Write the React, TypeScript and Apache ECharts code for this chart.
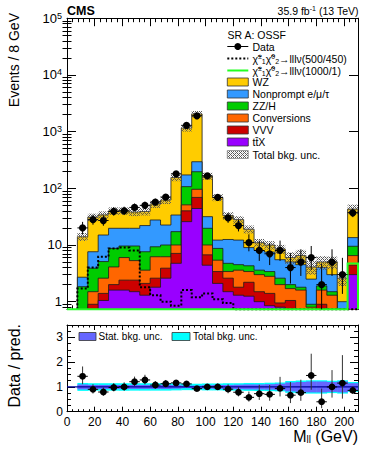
import React, { useEffect, useRef } from "react";
import * as echarts from "echarts";

// ---------------- data ----------------
const binLow = [7.5, 15, 22.5, 30, 37.5, 45, 52.5, 60, 67.5, 75, 82.5, 90, 97.5, 105, 112.5, 120, 127.5, 135, 142.5, 150, 157.5, 165, 172.5, 180, 187.5, 195, 202.5];
const binWidth = 7.5;

const dataCounts = [20, 28, 27, 39, 40, 46, 50, 57, 70, 180, 1290, 1900, 165, 69, 30, 22, 11, 8, 7, 8, 4, 5, 6, 2, 5, 3, 37];

// stack components, bottom to top
const ttX = [0.15, 0.45, 1.05, 1.6, 1.6, 1.5, 1.3, 1.8, 2.6, 4.75, 25.8, 44, 4.4, 2.1, 1.5, 1.3, 1.25, 1.0, 0.85, 0.8, 0.6, 0.5, 0.3, 0.5, 0.3, 0.2, 3.0];
const vvv = [0.1, 0.45, 0.35, 0.4, 0.8, 0.9, 0.8, 0.8, 1.3, 2.35, 14.2, 25, 2.3, 1.3, 1.1, 0.5, 0.95, 0.5, 0.55, 0.15, 0.45, 0.1, 0.1, 0.4, 0.4, 0.1, 1.4];
const conversions = [0.2, 0.6, 1.2, 2.1, 3.6, 2.9, 1.5, 3.6, 2.3, 2.9, 11, 27, 3.3, 2.0, 0.8, 1.8, 1.2, 1.5, 1.4, 1.05, 0.65, 1.0, 0.4, 0.7, 0.6, 0.2, 2.1];
const zzH = [1.39, 2.4, 2.5, 4.6, 3.6, 4.3, 4.0, 3.1, 3.8, 7.2, 56, 100, 9.7, 3.3, 1.35, 0.9, 0.9, 0.6, 0.6, 0.6, 0.3, 0.2, 0.1, 0.3, 0.2, 0.1, 3.0];
const nonprompt = [0.86, 3.7, 9.9, 11, 10.1, 10.1, 14.4, 18.3, 12.5, 16.6, 65, 98, 11.9, 3.5, 7.75, 7.7, 4.7, 4.4, 4.1, 2.9, 3.0, 2.7, 1.6, 2.1, 1.5, 0.4, 4.0];
const wz = [11.3, 23.4, 19, 20.3, 20.3, 18.3, 17, 25.4, 39.5, 121.2, 978, 1746, 133.4, 56.8, 20.5, 15.8, 10, 3, 2.5, 3, 1, 2, 1.6, 1, 2, 1.6, 29.5];

// relative uncertainties
const statRel = [0.1, 0.08, 0.08, 0.08, 0.08, 0.08, 0.08, 0.08, 0.08, 0.07, 0.05, 0.05, 0.07, 0.08, 0.08, 0.09, 0.1, 0.1, 0.11, 0.13, 0.18, 0.2, 0.22, 0.22, 0.2, 0.22, 0.15];
const totRel = [0.16, 0.15, 0.15, 0.15, 0.15, 0.15, 0.15, 0.15, 0.15, 0.14, 0.13, 0.13, 0.14, 0.14, 0.15, 0.15, 0.16, 0.16, 0.17, 0.18, 0.24, 0.26, 0.27, 0.27, 0.25, 0.27, 0.2];

// signals
const sig500 = [1.7, 4.0, 6.2, 8.7, 9.0, 8.0, 1.8, 1.3, 1.0, 0.85, 1.6, 1.2, 1.4, 1.1, 0.95, 0.6, 0.5, 0.4, 0.35, 0.3, 0.25, 0.2, 0.2, 0.15, 0.12, 0.1, 0.1];
const sig1000 = [0.02, 0.02, 0.03, 0.03, 0.04, 0.04, 0.05, 0.05, 0.06, 0.07, 0.08, 0.1, 0.1, 0.12, 0.13, 0.15, 0.16, 0.18, 0.2, 0.22, 0.24, 0.26, 0.28, 0.3, 0.33, 0.36, 4.7];

const yDecades = [0, 1, 2, 3, 4, 5];

// ---------------- style ----------------
const FONT = '"Liberation Sans", Arial, Helvetica, sans-serif';
const LOG_MIN = Math.log10(0.734);
const LOG_MAX = 5;
const RATIO_MAX = 3.5;

const comps = [
  { name: "tt̄X", values: ttX, color: "#9900ff" },
  { name: "VVV", values: vvv, color: "#cc0000" },
  { name: "Conversions", values: conversions, color: "#ff6600" },
  { name: "ZZ/H", values: zzH, color: "#00cc00" },
  { name: "Nonprompt e/μ/τ", values: nonprompt, color: "#3399ff" },
  { name: "WZ", values: wz, color: "#ffcc00" },
];

const lg = (v: number) => (v > 0 ? Math.max(Math.log10(v), LOG_MIN) : LOG_MIN);
const gUp = (n: number) => n + Math.sqrt(n + 0.75) + 1;
const gLo = (n: number) => (n <= 0 ? 0 : n * Math.pow(1 - 1 / (9 * n) - 1 / (3 * Math.sqrt(n)), 3));

function makeHatch() {
  const c = document.createElement("canvas");
  c.width = 4;
  c.height = 4;
  const ctx = c.getContext("2d")!;
  ctx.fillStyle = "#5a5a5a";
  for (let x = 0; x < 4; x++)
    for (let y = 0; y < 4; y++)
      if ((x + y) % 4 === 0 || (x - y + 4) % 4 === 0) ctx.fillRect(x, y, 1, 1);
  ctx.fillStyle = "rgba(150,150,150,0.5)";
  for (let x = 0; x < 4; x++)
    for (let y = 0; y < 4; y++)
      if ((x + y) % 4 === 2 && (x - y + 4) % 4 === 2) ctx.fillRect(x, y, 1, 1);
  return { image: c.toDataURL(), repeat: "repeat", imageWidth: 4, imageHeight: 4 };
}

export default function App() {
  const ref = useRef<HTMLDivElement>(null);
  useEffect(() => {
    const chart = echarts.init(ref.current!, null, { renderer: "svg" });
    const hatch: any = makeHatch();

    const nb = binLow.length;
    const cum: number[][] = [];
    comps.forEach((c, k) => {
      cum.push(c.values.map((v, i) => v + (k > 0 ? cum[k - 1][i] : 0)));
    });
    const total = cum[comps.length - 1];

    const minorLog: number[] = [];
    for (let d = -1; d < 5; d++)
      for (let m = 2; m <= 9; m++) {
        const v = d + Math.log10(m);
        if (v > LOG_MIN && v < LOG_MAX) minorLog.push(v);
      }

    const series: any[] = [];
    // stacked fills, drawn from top component down
    for (let k = comps.length - 1; k >= 0; k--) {
      const c = comps[k];
      series.push({
        type: "custom",
        name: c.name,
        xAxisIndex: 0,
        yAxisIndex: 0,
        z: 2,
        data: [[binLow[0], 0]],
        renderItem: (params: any, api: any) => {
          const pts: number[][] = [];
          pts.push(api.coord([binLow[0], LOG_MIN]));
          for (let i = 0; i < nb; i++) {
            const y = lg(cum[k][i]);
            pts.push(api.coord([binLow[i], y]));
            pts.push(api.coord([binLow[i] + binWidth, y]));
          }
          pts.push(api.coord([binLow[nb - 1] + binWidth, LOG_MIN]));
          return {
            type: "group",
            children: [
              { type: "polygon", shape: { points: pts }, style: { fill: c.color } },
              { type: "polyline", shape: { points: pts }, style: { stroke: "#1a1a1a", lineWidth: 0.8, fill: null } },
            ],
          };
        },
      });
    }
    // total uncertainty hatch
    series.push({
      type: "custom",
      name: "Total bkg. unc.",
      xAxisIndex: 0,
      yAxisIndex: 0,
      z: 3,
      data: binLow.map((x) => [x, 0]),
      renderItem: (params: any, api: any) => {
        const i = params.dataIndex;
        const p1 = api.coord([binLow[i], lg(total[i] * (1 + totRel[i]))]);
        const p2 = api.coord([binLow[i] + binWidth, lg(total[i] * (1 - totRel[i]))]);
        return {
          type: "rect",
          shape: { x: p1[0], y: p1[1], width: p2[0] - p1[0], height: p2[1] - p1[1] },
          style: { fill: hatch },
        };
      },
    });
    // signal lines
    const sigSeries = (vals: number[], color: string, dash: any, width: number, fromZero: boolean) => ({
      type: "custom",
      xAxisIndex: 0,
      yAxisIndex: 0,
      z: 4,
      data: [[binLow[0], 0]],
      renderItem: (params: any, api: any) => {
        const pts: number[][] = [];
        if (fromZero) pts.push(api.coord([0, LOG_MIN]));
        pts.push(api.coord([binLow[0], LOG_MIN]));
        for (let i = 0; i < nb; i++) {
          const y = lg(vals[i]);
          pts.push(api.coord([binLow[i], y]));
          pts.push(api.coord([binLow[i] + binWidth, y]));
        }
        pts.push(api.coord([binLow[nb - 1] + binWidth, LOG_MIN]));
        return {
          type: "polyline",
          shape: { points: pts },
          style: { stroke: color, lineWidth: width, lineDash: dash, fill: null },
        };
      },
    });
    series.push(sigSeries(sig500, "#000000", [2, 2], 2, false));
    series.push(sigSeries(sig1000, "#22ff22", null, 2, true));

    // data points
    series.push({
      type: "custom",
      name: "Data",
      xAxisIndex: 0,
      yAxisIndex: 0,
      z: 6,
      data: dataCounts.map((n, i) => [binLow[i] + binWidth / 2, lg(n)]),
      renderItem: (params: any, api: any) => {
        const i = params.dataIndex;
        const n = dataCounts[i];
        const xc = binLow[i] + binWidth / 2;
        const pc = api.coord([xc, lg(n)]);
        const pu = api.coord([xc, lg(gUp(n))]);
        const pl = api.coord([xc, lg(gLo(n))]);
        const pa = api.coord([binLow[i], lg(n)]);
        const pb = api.coord([binLow[i] + binWidth, lg(n)]);
        return {
          type: "group",
          children: [
            { type: "line", shape: { x1: pc[0], y1: pu[1], x2: pc[0], y2: pl[1] }, style: { stroke: "#000", lineWidth: 1 } },
            { type: "line", shape: { x1: pa[0], y1: pc[1], x2: pb[0], y2: pc[1] }, style: { stroke: "#000", lineWidth: 1 } },
            { type: "circle", shape: { cx: pc[0], cy: pc[1], r: 3.6 }, style: { fill: "#000" } },
          ],
        };
      },
    });

    // ratio panel
    const rc = (v: number) => Math.min(Math.max(v, 0), RATIO_MAX);
    const band = (rel: number[], color: string, z: number) => ({
      type: "custom",
      xAxisIndex: 2,
      yAxisIndex: 4,
      z,
      data: binLow.map((x) => [x, 1]),
      renderItem: (params: any, api: any) => {
        const i = params.dataIndex;
        const p1 = api.coord([binLow[i], 1 + rel[i]]);
        const p2 = api.coord([binLow[i] + binWidth, 1 - rel[i]]);
        return {
          type: "rect",
          shape: { x: p1[0], y: p1[1], width: p2[0] - p1[0] + 0.3, height: p2[1] - p1[1] },
          style: { fill: color },
        };
      },
    });
    series.push(band(totRel, "#00ffff", 2));
    series.push(band(statRel, "#6666ff", 3));
    series.push({
      type: "custom",
      xAxisIndex: 2,
      yAxisIndex: 4,
      z: 4,
      data: [[0, 1]],
      renderItem: (params: any, api: any) => {
        const a = api.coord([0, 1]);
        const b = api.coord([210, 1]);
        return { type: "line", shape: { x1: a[0], y1: a[1], x2: b[0], y2: b[1] }, style: { stroke: "#000099", lineWidth: 1.2 } };
      },
    });
    series.push({
      type: "custom",
      xAxisIndex: 2,
      yAxisIndex: 4,
      z: 6,
      data: dataCounts.map((n, i) => [binLow[i] + binWidth / 2, n / total[i]]),
      renderItem: (params: any, api: any) => {
        const i = params.dataIndex;
        const n = dataCounts[i];
        const t = total[i];
        const xc = binLow[i] + binWidth / 2;
        const pc = api.coord([xc, rc(n / t)]);
        const pu = api.coord([xc, rc(gUp(n) / t)]);
        const pl = api.coord([xc, rc(gLo(n) / t)]);
        const pa = api.coord([binLow[i], rc(n / t)]);
        const pb = api.coord([binLow[i] + binWidth, rc(n / t)]);
        return {
          type: "group",
          children: [
            { type: "line", shape: { x1: pc[0], y1: pu[1], x2: pc[0], y2: pl[1] }, style: { stroke: "#333", lineWidth: 1 } },
            { type: "line", shape: { x1: pa[0], y1: pc[1], x2: pb[0], y2: pc[1] }, style: { stroke: "#000", lineWidth: 1 } },
            { type: "circle", shape: { cx: pc[0], cy: pc[1], r: 3.4 }, style: { fill: "#000" } },
          ],
        };
      },
    });

    const frameLine = { show: true, onZero: false, lineStyle: { color: "#000", width: 1 } };
    const xBase = (grid: number, pos: string, labels: boolean, tickLen: number) => ({
      type: "value",
      gridIndex: grid,
      position: pos,
      min: 0,
      max: 210,
      interval: 20,
      axisLine: frameLine,
      axisTick: { show: true, inside: true, length: tickLen, lineStyle: { color: "#000" } },
      minorTick: { show: true, splitNumber: 5, length: tickLen / 2, lineStyle: { color: "#000" } },
      splitLine: { show: false },
      axisLabel: labels
        ? { show: true, fontSize: 12, fontFamily: FONT, color: "#000", margin: 4, showMaxLabel: false }
        : { show: false },
    });

    const yMain = (pos: string, labels: boolean, minor: boolean) => ({
      type: "value",
      gridIndex: 0,
      position: pos,
      offset: 0,
      min: LOG_MIN,
      max: LOG_MAX,
      axisLine: minor ? { show: false } : frameLine,
      splitLine: { show: false },
      axisTick: {
        show: true,
        inside: true,
        length: minor ? 4.5 : 9,
        customValues: minor ? minorLog : yDecades,
        lineStyle: { color: "#000" },
      },
      axisLabel: labels
        ? {
            show: true,
            customValues: yDecades,
            fontSize: 13,
            fontFamily: FONT,
            color: "#000",
            margin: 5,
            formatter: (v: number) => {
              const n = Math.round(v);
              if (n === 0) return "1";
              if (n === 1) return "10";
              return "10{s|" + n + "}";
            },
            rich: { s: { fontSize: 9, fontFamily: FONT, verticalAlign: "top", padding: [0, 0, 5, 0] } },
          }
        : { show: false },
    });

    const yRatio = (pos: string, labels: boolean) => ({
      type: "value",
      gridIndex: 1,
      position: pos,
      min: 0,
      max: RATIO_MAX,
      interval: 1,
      axisLine: frameLine,
      splitLine: { show: false },
      axisTick: { show: true, inside: true, length: 8, lineStyle: { color: "#000" } },
      minorTick: { show: true, splitNumber: 4, length: 4, lineStyle: { color: "#000" } },
      axisLabel: labels
        ? { show: true, fontSize: 12, fontFamily: FONT, color: "#000", margin: 4, showMaxLabel: false }
        : { show: false },
    });

    // legend graphics
    const g: any[] = [];
    const txt = (text: string, x: number, y: number, size: number, extra: any = {}) => ({
      type: "text",
      x,
      y,
      style: { text, fontFamily: FONT, fontSize: size, fill: "#000", align: "left", verticalAlign: "middle", ...extra },
    });
    g.push(txt("CMS", 67, 10.5, 12.5, { fontWeight: "bold" }));
    g.push(
      txt("35.9 fb{s|-1} (13 TeV)", 358.5, 10.5, 10.5, {
        align: "right",
        rich: { s: { fontSize: 7, fontFamily: FONT, verticalAlign: "top", padding: [0, 0, 4, 0] } },
      })
    );
    g.push(txt("SR A: OSSF", 227.5, 35, 10.5));
    const LX = 227.3, LW = 21, TX = 252.5;
    const rows = [
      { kind: "data", label: "Data", y: 46.5 },
      { kind: "sig1", label: "χ̃{s|±}{b|1}χ̃{s|0}{b|2}→lllν(500/450)", y: 58.5 },
      { kind: "sig2", label: "χ̃{s|±}{b|1}χ̃{s|0}{b|2}→lllν(1000/1)", y: 70.5 },
      { kind: "box", label: "WZ", y: 82, color: "#ffcc00" },
      { kind: "box", label: "Nonprompt e/μ/τ", y: 94, color: "#3399ff" },
      { kind: "box", label: "ZZ/H", y: 106, color: "#00cc00" },
      { kind: "box", label: "Conversions", y: 118, color: "#ff6600" },
      { kind: "box", label: "VVV", y: 130, color: "#cc0000" },
      { kind: "box", label: "tt̄X", y: 142, color: "#9900ff" },
      { kind: "hatch", label: "Total bkg. unc.", y: 154.5 },
    ];
    const subsup = {
      s: { fontSize: 7, fontFamily: FONT, verticalAlign: "top", padding: [0, 0, 5, 0] },
      b: { fontSize: 7, fontFamily: FONT, verticalAlign: "bottom", padding: [5, 0, 0, 0] },
    };
    rows.forEach((r: any) => {
      if (r.kind === "data") {
        g.push({ type: "line", shape: { x1: LX, y1: r.y, x2: LX + LW, y2: r.y }, style: { stroke: "#000", lineWidth: 1 } });
        g.push({ type: "circle", shape: { cx: LX + LW / 2, cy: r.y, r: 3.5 }, style: { fill: "#000" } });
      } else if (r.kind === "sig1") {
        g.push({ type: "line", shape: { x1: LX, y1: r.y, x2: LX + LW, y2: r.y }, style: { stroke: "#000", lineWidth: 2, lineDash: [2, 2] } });
      } else if (r.kind === "sig2") {
        g.push({ type: "line", shape: { x1: LX, y1: r.y, x2: LX + LW, y2: r.y }, style: { stroke: "#22ff22", lineWidth: 2 } });
      } else if (r.kind === "box") {
        g.push({ type: "rect", shape: { x: LX, y: r.y - 4, width: LW, height: 8 }, style: { fill: r.color, stroke: "#333", lineWidth: 0.8 } });
      } else {
        g.push({ type: "rect", shape: { x: LX, y: r.y - 4, width: LW, height: 8 }, style: { fill: hatch, stroke: "#888", lineWidth: 0.8 } });
      }
      g.push(txt(r.label, TX, r.y, 10.5, { rich: subsup }));
    });
    // ratio legend
    g.push({ type: "rect", shape: { x: 79, y: 332.5, width: 17, height: 8 }, style: { fill: "#6666ff", stroke: "#333", lineWidth: 0.8 } });
    g.push(txt("Stat. bkg. unc.", 98.5, 336.5, 10));
    g.push({ type: "rect", shape: { x: 172, y: 332.5, width: 18, height: 8 }, style: { fill: "#00ffff", stroke: "#333", lineWidth: 0.8 } });
    g.push(txt("Total bkg. unc.", 193, 336.5, 10));
    // axis titles
    g.push({
      type: "text",
      x: 14,
      y: 13,
      rotation: Math.PI / 2,
      style: { text: "Events / 8 GeV", fontFamily: FONT, fontSize: 14, fill: "#000", align: "right", verticalAlign: "middle" },
    });
    g.push({
      type: "text",
      x: 14,
      y: 324,
      rotation: Math.PI / 2,
      style: { text: "Data / pred.", fontFamily: FONT, fontSize: 16, fill: "#000", align: "right", verticalAlign: "middle" },
    });
    g.push(
      txt("M{b|ll} (GeV)", 358, 436.5, 16, {
        align: "right",
        rich: { b: { fontSize: 10, fontFamily: FONT, verticalAlign: "bottom", padding: [6, 0, 0, 0] } },
      })
    );

    const option: any = {
      animation: false,
      backgroundColor: "#ffffff",
      grid: [
        { left: 67, top: 18.2, width: 291, height: 291.1 },
        { left: 67, top: 325, width: 291, height: 86.7 },
      ],
      xAxis: [xBase(0, "bottom", false, 8), xBase(0, "top", false, 8), xBase(1, "bottom", true, 5), xBase(1, "top", false, 5)],
      yAxis: [
        yMain("left", true, false),
        yMain("left", false, true),
        yMain("right", false, false),
        yMain("right", false, true),
        yRatio("left", true),
        yRatio("right", false),
      ],
      series,
      graphic: g,
    };
    chart.setOption(option);
    return () => chart.dispose();
  }, []);
  return (
    <div
      ref={ref}
      style={{ position: "absolute", left: 0, top: 0, width: 374, height: 453, background: "#fff" }}
    />
  );
}
